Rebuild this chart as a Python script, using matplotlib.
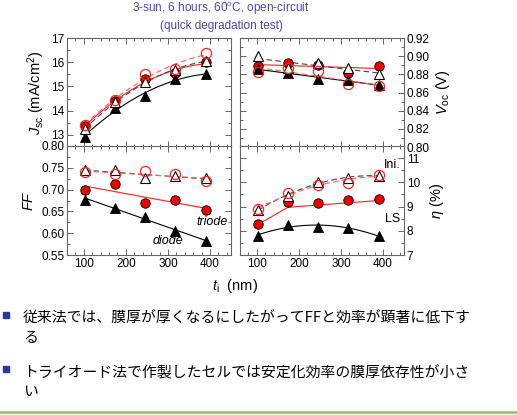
import numpy as np
import matplotlib
matplotlib.use("Agg")
import matplotlib.pyplot as plt
from matplotlib.ticker import MultipleLocator
from matplotlib.patches import Rectangle
from matplotlib.lines import Line2D

plt.rcParams['font.family'] = ['Liberation Sans', 'DejaVu Sans']
plt.rcParams['mathtext.fontset'] = 'custom'
plt.rcParams['mathtext.rm'] = 'Liberation Sans'
plt.rcParams['mathtext.it'] = 'Liberation Sans:italic'

# i-layer thickness (nm)
thickness = [102, 174, 246, 318, 390]

# Jsc (mA/cm2)
jsc_diode_ini = [13.24, 14.34, 15.17, 15.68, 16.05]
jsc_diode_ls = [12.92, 14.13, 14.59, 15.31, 15.51]
jsc_triode_ini = [13.42, 14.44, 15.51, 15.72, 16.38]
jsc_triode_ls = [13.35, 14.38, 15.31, 15.54, 15.99]

# Voc (V)
voc_diode_ini = [0.900, 0.887, 0.893, 0.887, 0.880]
voc_diode_ls = [0.8855, 0.882, 0.875, 0.8734, 0.868]
voc_triode_ini = [0.8826, 0.8866, 0.8837, 0.869, 0.8672]
voc_triode_ls = [0.889, 0.8928, 0.890, 0.882, 0.889]

# FF
ff_diode_ini = [0.745, 0.744, 0.726, 0.732, 0.726]
ff_diode_ls = [0.677, 0.658, 0.638, 0.606, 0.581]
ff_triode_ini = [0.740, 0.735, 0.742, 0.735, 0.719]
ff_triode_ls = [0.700, 0.713, 0.669, 0.677, 0.654]

# efficiency (%)
eta_diode_ini = [8.86, 9.44, 10.03, 10.17, 10.28]
eta_diode_ls = [7.79, 8.24, 8.17, 8.10, 7.79]
eta_triode_ini = [8.88, 9.58, 9.89, 9.99, 10.31]
eta_triode_ls = [8.28, 9.20, 9.16, 9.27, 9.30]
# hand drawn trend of the triode LS efficiency
eta_triode_ls_trend_x = [102, 174, 390]
eta_triode_ls_trend = [8.25, 8.97, 9.25]

title_lines = ["3-sun, 6 hours, 60$^{\\rm o}$C, open-circuit", "(quick degradation test)"]
bullets = [
    ("従来法では、膜厚が厚くなるにしたがってFFと効率が顕著に低下す", "る"),
    ("トライオード法で作製したセルでは安定化効率の膜厚依存性が小さ", "い"),
]

RED = '#ff2020'
FRAME = '#666666'


def fit_line(ax, x, y, deg, **kw):
    c = np.polyfit(x, y, deg)
    xs = np.linspace(x[0], x[-1], 60)
    ax.plot(xs, np.polyval(c, xs), **kw)


def draw_panel(ax, d_ini, d_ls, t_ini, t_ls, degs):
    x = np.array(thickness, dtype=float)
    if degs[3] is not None:
        fit_line(ax, x, t_ls, degs[3], color=RED, lw=0.8, zorder=2)
    fit_line(ax, x, d_ls, degs[1], color='black', lw=0.8, zorder=2)
    fit_line(ax, x, d_ini, degs[0], color='#444444', lw=0.8, ls=(0, (5, 3)), zorder=2)
    fit_line(ax, x, t_ini, degs[2], color='#ff6060', lw=0.8, ls=(0, (5, 3)), zorder=2)
    ax.plot(x, t_ls, 'o', ms=6.8, mfc='#ee0000', mec='black', mew=0.6, zorder=3)
    ax.plot(x, d_ls, '^', ms=6.8, mfc='black', mec='black', mew=0.6, zorder=3)
    ax.plot(x, d_ini, '^', ms=7, mfc='white', mec='black', mew=0.8, zorder=4)
    ax.plot(x, t_ini, 'o', ms=7.3, mfc='none', mec=RED, mew=0.9, zorder=5)


def style(ax, ymaj, ymin):
    ax.set_xlim(60, 450)
    ax.xaxis.set_major_locator(MultipleLocator(100))
    ax.xaxis.set_minor_locator(MultipleLocator(20))
    ax.yaxis.set_major_locator(MultipleLocator(ymaj))
    ax.yaxis.set_minor_locator(MultipleLocator(ymin))
    ax.tick_params(which='both', direction='in', top=True, bottom=True, left=True, right=True,
                   color=FRAME, width=0.7, labelsize=8.5, pad=2)
    ax.tick_params(which='major', length=4)
    ax.tick_params(which='minor', length=2)
    for s in ax.spines.values():
        s.set_color(FRAME)
        s.set_linewidth(0.8)


fig = plt.figure(figsize=(5.17, 4.15), dpi=100)
W, H = 517, 415
lx, rx, pw = 67 / W, 240 / W, 164 / W
top_b, bot_b, ph = 1 - 147 / H, 1 - 255 / H, 109 / H

ax_jsc = fig.add_axes([lx, top_b, pw, ph])
ax_voc = fig.add_axes([rx, top_b, pw, ph])
ax_ff = fig.add_axes([lx, bot_b, pw, ph])
ax_eta = fig.add_axes([rx, bot_b, pw, ph])

# Jsc
draw_panel(ax_jsc, jsc_diode_ini, jsc_diode_ls, jsc_triode_ini, jsc_triode_ls, (2, 2, 2, 2))
style(ax_jsc, 1, 0.5)
ax_jsc.set_ylim(12.5, 17)
ax_jsc.tick_params(labelbottom=False)
ax_jsc.set_ylabel("$J_{\\rm sc}$ (mA/cm$^2$)", fontsize=10.5, labelpad=3)

# Voc
draw_panel(ax_voc, voc_diode_ini, voc_diode_ls, voc_triode_ini, voc_triode_ls, (1, 1, 1, 1))
style(ax_voc, 0.02, 0.01)
ax_voc.set_ylim(0.80, 0.92)
ax_voc.yaxis.set_major_formatter(matplotlib.ticker.FormatStrFormatter('%.2f'))
ax_voc.tick_params(labelbottom=False, labelleft=False, labelright=True)
ax_voc.yaxis.set_label_position('right')
ax_voc.set_ylabel("$V_{\\rm oc}$ (V)", fontsize=10.5, labelpad=3)

# FF
draw_panel(ax_ff, ff_diode_ini, ff_diode_ls, ff_triode_ini, ff_triode_ls, (1, 1, 1, 1))
style(ax_ff, 0.05, 0.025)
ax_ff.set_ylim(0.55, 0.80)
ax_ff.yaxis.set_major_formatter(matplotlib.ticker.FormatStrFormatter('%.2f'))
ax_ff.set_ylabel("$FF$", fontsize=10.5, labelpad=4)
ax_ff.text(443, 0.626, "triode", style='italic', fontsize=9, ha='right', va='center')
ax_ff.text(300, 0.581, "diode", style='italic', fontsize=9, ha='center', va='center')

# efficiency
draw_panel(ax_eta, eta_diode_ini, eta_diode_ls, eta_triode_ini, eta_triode_ls, (2, 2, 2, None))
ax_eta.plot(eta_triode_ls_trend_x, eta_triode_ls_trend, color=RED, lw=0.8, zorder=2)
style(ax_eta, 1, 0.5)
ax_eta.set_ylim(7, 11.5)
ax_eta.tick_params(labelleft=False, labelright=True)
ax_eta.yaxis.set_label_position('right')
ax_eta.set_ylabel("$\\eta$ (%)", fontsize=10.5, labelpad=6)
ax_eta.text(442, 10.72, "Ini.", fontsize=9, ha='right', va='center')
ax_eta.text(442, 8.5, "LS", fontsize=9, ha='right', va='center')

fig.text(235 / W, 1 - 286 / H, "$t_{\\rm i}$  (nm)", fontsize=10.5, ha='center', va='center')

for i, line in enumerate(title_lines):
    fig.text(221 / W, 1 - (9 + 17 * i) / H, line, color='#4848b8', fontsize=8.5,
             ha='center', va='center')

jp = ['Noto Sans CJK JP', 'DejaVu Sans']
for (l1, l2), yb in zip(bullets, [319, 373]):
    fig.patches.append(Rectangle((3 / W, 1 - (yb - 1) / H), 6 / W, 6 / H,
                                 transform=fig.transFigure, color='#2a3a9a'))
    fig.text(23 / W, 1 - yb / H, l1, family=jp, fontsize=10.7, ha='left', va='center')
    fig.text(23 / W, 1 - (yb + 19) / H, l2, family=jp, fontsize=10.7, ha='left', va='center')

fig.lines.append(Line2D([0, 1], [1 - 412 / H, 1 - 412 / H], transform=fig.transFigure,
                        color='#92d050', lw=2))

fig.savefig("out.png", dpi=100)
